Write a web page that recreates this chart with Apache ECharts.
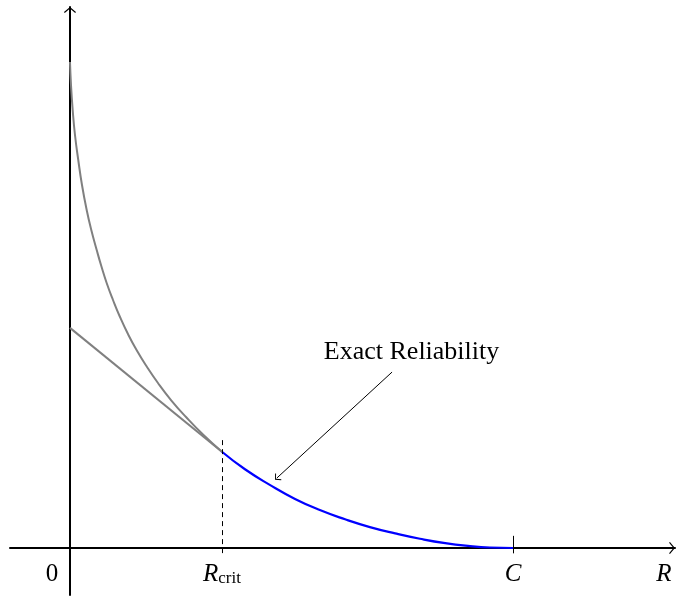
<!DOCTYPE html>
<html>
<head>
<meta charset="utf-8">
<script src="https://cdn.jsdelivr.net/npm/echarts@6/dist/echarts.min.js"></script>
<style>
  html, body { margin: 0; padding: 0; background: #fff; }
  #chart { width: 676px; height: 596px; }
</style>
</head>
<body>
<div id="chart"></div>
<script>
// R is scaled so that C = 1, reliability so that the bound's top = 1
const rCrit = 0.343;
const capC = 1.0;

// upper bound (grey curve)
const boundR = [0, 0.0023, 0.0061, 0.0113, 0.0187, 0.0271, 0.0377, 0.0481, 0.0603, 0.0707, 0.0828,
  0.0971, 0.1129, 0.1309, 0.1503, 0.1725, 0.1986, 0.228, 0.2619, 0.3014, 0.343];
const boundP = [1.0, 0.9527, 0.9012, 0.8498, 0.7984, 0.7469, 0.6955, 0.6543, 0.6132, 0.5802, 0.5453,
  0.5103, 0.4753, 0.4403, 0.4074, 0.3745, 0.3395, 0.3045, 0.2695, 0.2325, 0.198];

// straight-line bound (grey, tangent at R_crit)
const tangentR = [0, 0.343];
const tangentP = [0.453, 0.198];

// exact reliability (blue)
const exactR = [0.343, 0.395, 0.451, 0.508, 0.564, 0.621, 0.677, 0.734, 0.790, 0.847, 0.903, 0.948, 1.0];
const exactP = [0.198, 0.162, 0.130, 0.101, 0.078, 0.059, 0.043, 0.030, 0.019, 0.010, 0.004, 0.001, 0];

// annotation: arrow from text to curve
const noteText = 'Exact Reliability';
const noteFrom = [0.727, 0.362];
const noteTo = [0.467, 0.144];
const notePos = [0.771, 0.403];

const pairs = (xs, ys) => xs.map((x, i) => [x, ys[i]]);

const serif = 'Liberation Serif';
const chevron = 'path://M0,0 L6,5 L5.2,5.9 L0,1.5 L-5.2,5.9 L-6,5 Z';

const chart = echarts.init(document.getElementById('chart'));

const option = {
  animation: false,
  backgroundColor: '#fff',
  grid: { left: 10, right: 1, top: 7, bottom: 1, containLabel: false, outerBoundsMode: 'none' },
  xAxis: {
    type: 'value',
    min: -0.1354,
    max: 1.3657,
    splitLine: { show: false },
    axisTick: { show: false },
    axisLine: {
      onZero: true,
      symbol: ['none', chevron],
      symbolSize: [12, 6],
      symbolOffset: [0, -3],
      lineStyle: { color: '#000', width: 2 }
    },
    name: 'R',
    nameLocation: 'end',
    nameGap: -11,
    nameTextStyle: {
      fontFamily: serif, fontStyle: 'italic', fontSize: 25, color: '#000',
      align: 'center', verticalAlign: 'top', padding: [14, 0, 0, 0]
    },
    axisLabel: {
      customValues: [0, rCrit, capC],
      // labels sit at the grid edge, pull them up under the zero line
      margin: -33,
      formatter: function (v) {
        if (v === 0) return '{z|0}';
        if (v === rCrit) return '{i|R}{s|crit}';
        return '{i|C}';
      },
      rich: {
        z: { fontFamily: serif, fontSize: 25, color: '#000', padding: [0, 36, 0, 0] },
        i: { fontFamily: serif, fontStyle: 'italic', fontSize: 25, color: '#000' },
        s: { fontFamily: serif, fontSize: 17, color: '#000', verticalAlign: 'bottom', lineHeight: 12 }
      }
    }
  },
  yAxis: {
    type: 'value',
    min: -0.0967,
    max: 1.1132,
    splitLine: { show: false },
    axisTick: { show: false },
    axisLabel: { show: false },
    axisLine: {
      onZero: true,
      symbol: ['none', chevron],
      symbolSize: [12, 6],
      symbolOffset: [0, -3],
      lineStyle: { color: '#000', width: 2 }
    }
  },
  series: [
    {
      name: 'bound',
      type: 'line',
      data: pairs(boundR, boundP),
      smooth: 0.5,
      showSymbol: false,
      lineStyle: { color: '#808080', width: 2 },
      silent: true,
      z: 3
    },
    {
      name: 'tangent',
      type: 'line',
      data: pairs(tangentR, tangentP),
      showSymbol: false,
      lineStyle: { color: '#808080', width: 2 },
      silent: true,
      z: 3
    },
    {
      name: 'exact',
      type: 'line',
      data: pairs(exactR, exactP),
      smooth: 0.5,
      showSymbol: false,
      lineStyle: { color: '#0000ff', width: 2.2 },
      silent: true,
      z: 4,
      markLine: {
        silent: true,
        animation: false,
        label: { show: false },
        symbol: ['none', 'none'],
        data: [
          [
            { coord: [rCrit, 0.222], lineStyle: { color: '#000', width: 1, type: [5, 4] } },
            { coord: [rCrit, -0.015] }
          ],
          [
            { coord: [capC, 0.025], lineStyle: { color: '#000', width: 1, type: 'solid' } },
            { coord: [capC, -0.011] }
          ],
          [
            { coord: noteFrom, symbol: 'none', lineStyle: { color: '#000', width: 1, type: 'solid' } },
            { coord: noteTo, symbol: chevron, symbolSize: [9, 5] }
          ]
        ]
      },
      markPoint: {
        silent: true,
        symbol: 'circle',
        symbolSize: 0,
        data: [{ coord: notePos }],
        label: {
          show: true,
          position: 'inside',
          formatter: noteText,
          fontFamily: serif,
          fontSize: 26,
          color: '#000'
        }
      }
    }
  ]
};

chart.setOption(option);
window.addEventListener('resize', function () { chart.resize(); });
</script>
</body>
</html>
